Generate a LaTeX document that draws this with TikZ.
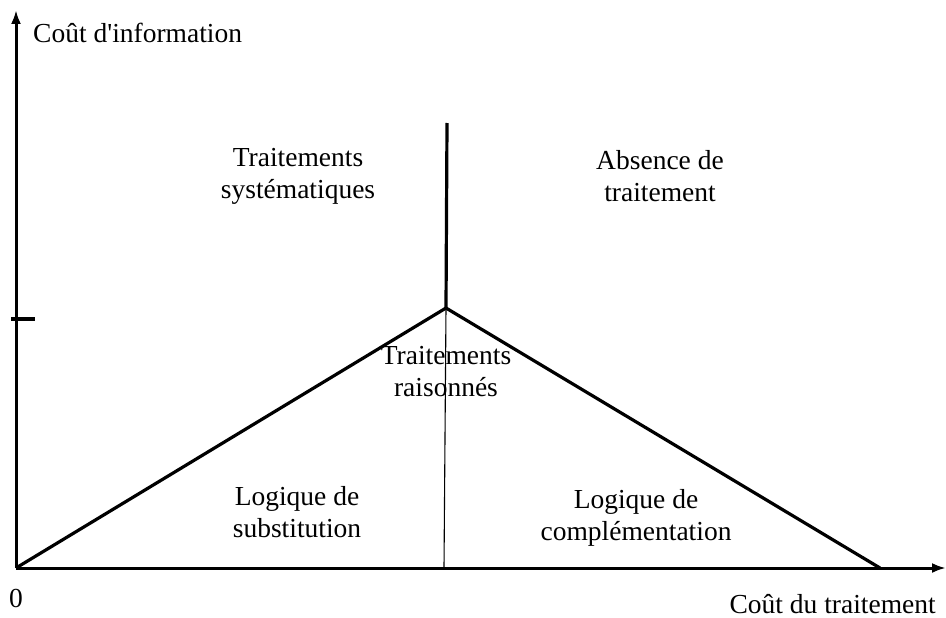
\documentclass[tikz,border=0pt]{standalone}
\usepackage{fontspec}
\setmainfont{Liberation Serif}
\usetikzlibrary{arrows.meta}
\begin{document}
\begin{tikzpicture}[x=1pt,y=-1pt,
  axis/.style={line width=3pt,-{Latex[length=14pt,width=10pt]}},
  thick line/.style={line width=3.2pt},
  thin line/.style={line width=1.1pt},
  lbl/.style={font=\fontsize{27.5}{32}\selectfont,align=center,inner sep=0pt}]
\useasboundingbox (0,0) rectangle (946,618);
\coordinate (O) at (16,568);
\coordinate (Ytop) at (16,10);
\coordinate (Xend) at (946,568);
\coordinate (A) at (446,308);
\coordinate (T) at (447,123);
\coordinate (R) at (880,568);
\coordinate (B) at (444,568);
\coordinate (tk1) at (11,319);
\coordinate (tk2) at (35,319);
\draw[axis] (O) -- (Ytop);
\draw[axis] (O) -- (Xend);
\draw[thick line] (tk1) -- (tk2);
\draw[thick line,line join=miter] (O) -- (A) -- (R);
\draw[thick line] (T) -- (A);
\draw[thin line] (A) -- (B);
\node[lbl,anchor=west] (ylab) at (33,33) {Coût d\textquotesingle information};
\node[lbl] (sys) at (298,176) {Traitements\\systématiques};
\node[lbl] (abs) at (660,176) {Absence de\\traitement};
\node[lbl] (rai) at (446,372) {Traitements\\raisonnés};
\node[lbl] (sub) at (297,512) {Logique de\\substitution};
\node[lbl] (comp) at (636,518) {Logique de\\complémentation};
\node[lbl] (zero) at (16,598) {0};
\node[lbl,anchor=east] (xlab) at (936,604) {Coût du traitement};
\end{tikzpicture}
\end{document}
